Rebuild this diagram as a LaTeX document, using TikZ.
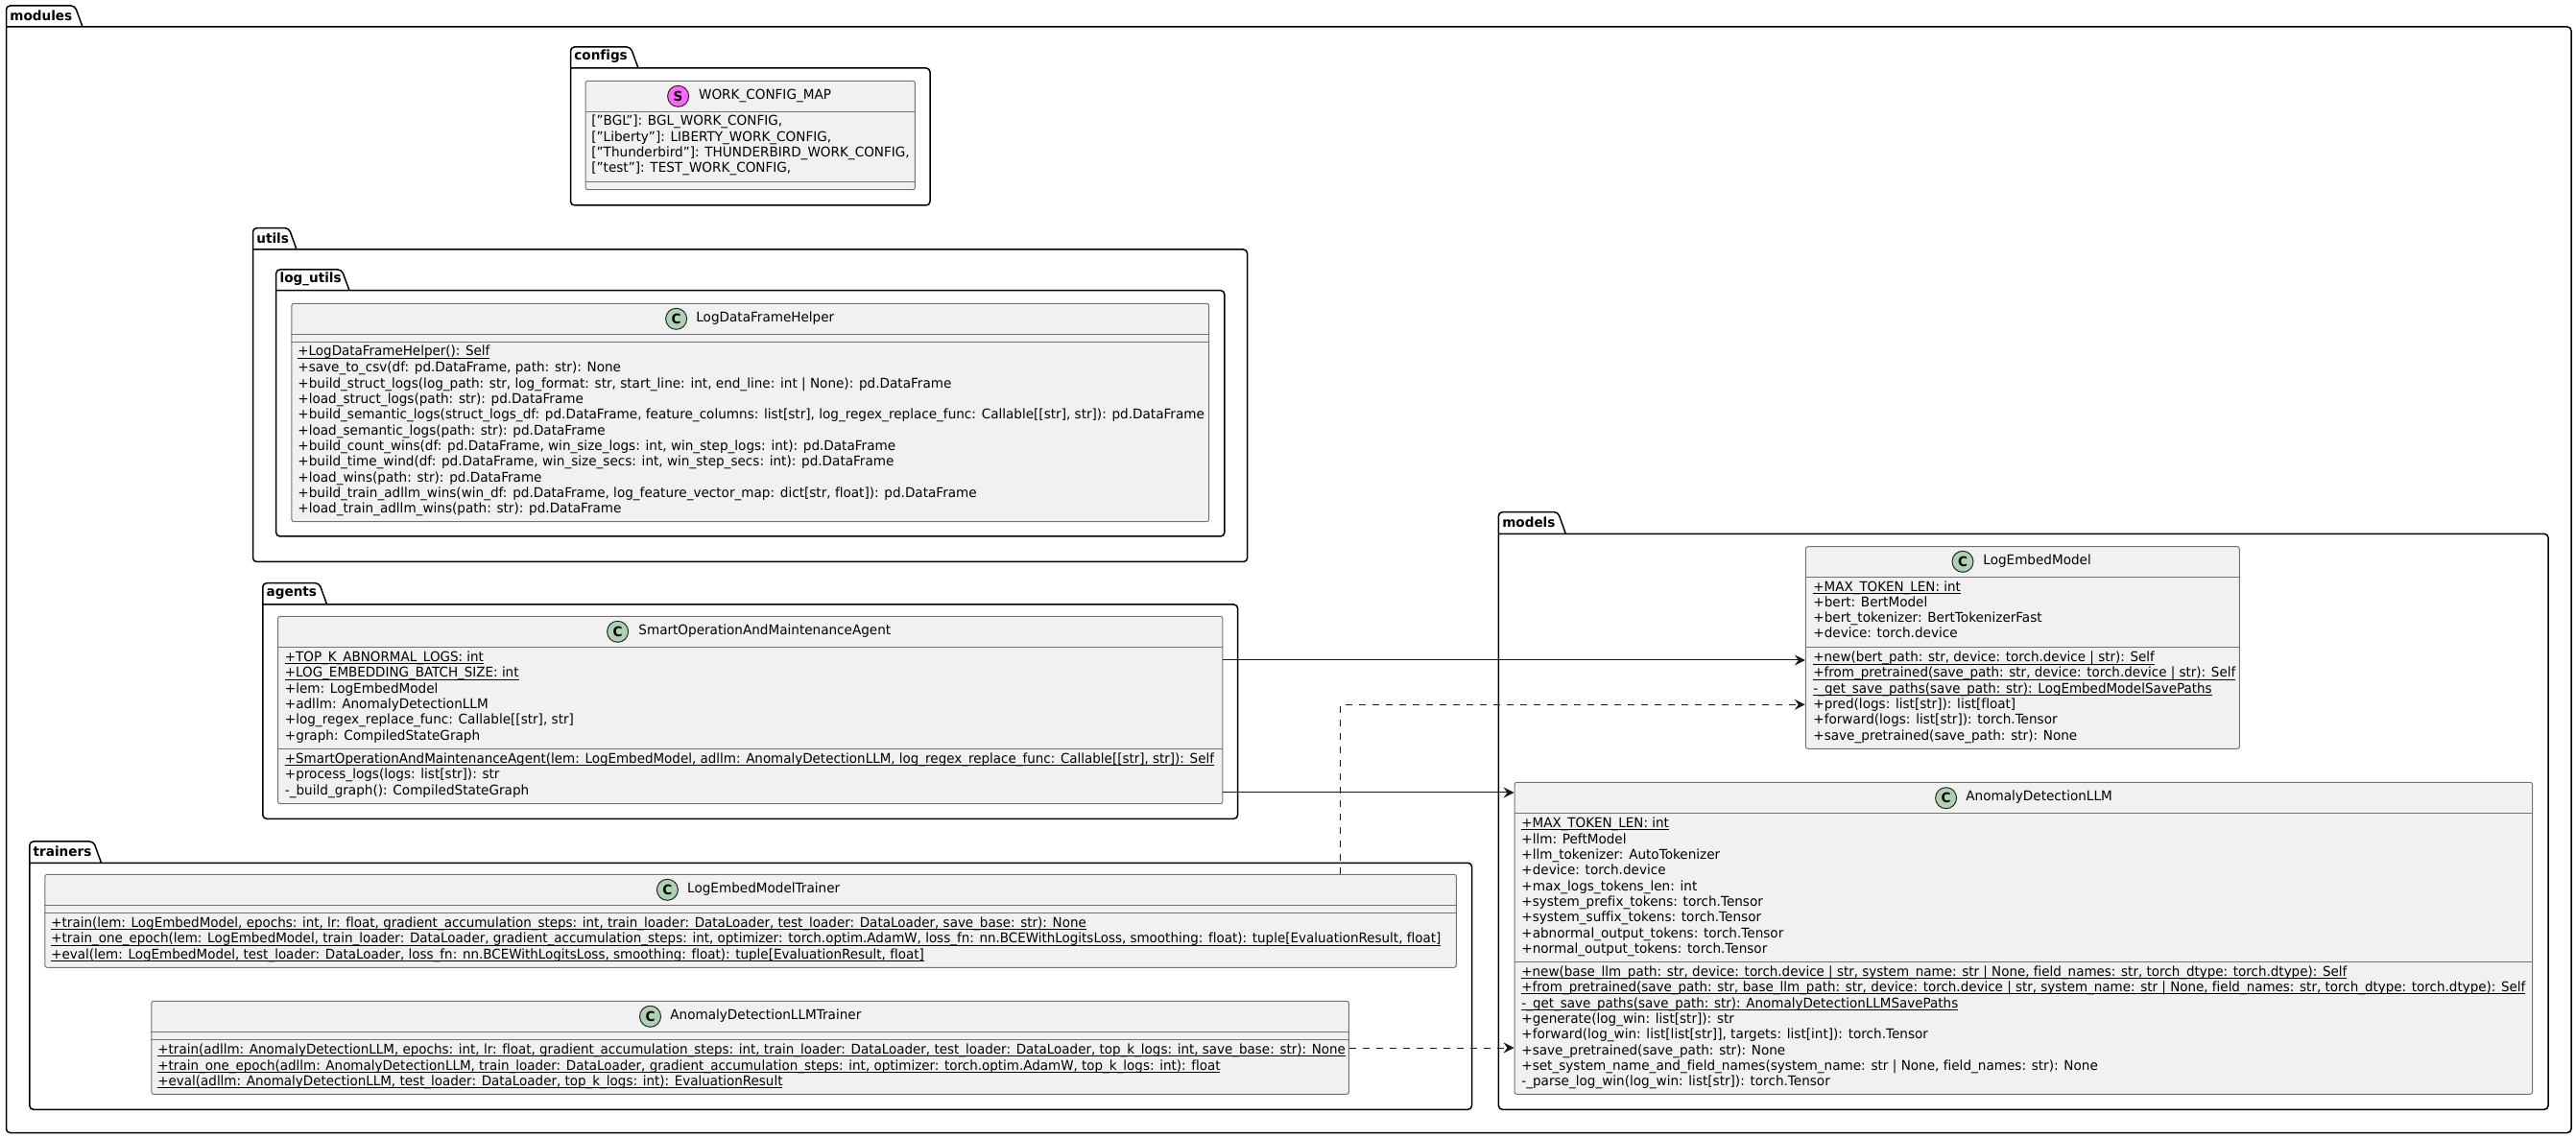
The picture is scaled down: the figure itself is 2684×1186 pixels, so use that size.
\documentclass[tikz,border=0pt]{standalone}
\usepackage{fontspec}
\setmainfont{DejaVu Sans}[Ligatures=NoCommon,FakeStretch=0.97]
\usepackage{xcolor}
\usetikzlibrary{arrows.meta,fit}
\definecolor{boxfill}{HTML}{F1F1F1}
\definecolor{classspot}{HTML}{ADD1B2}
\definecolor{mapspot}{HTML}{FF66FF}
\tikzset{
  line join=round,
  packageline/.style={line width=0.75pt, draw=black, rounded corners=2pt},
  packagelabel/.style={anchor=west, inner sep=0pt, font=\fontsize{7}{8}\selectfont\bfseries},
  classbox/.style={draw=black!55, fill=boxfill, line width=0.5pt, rounded corners=1.2pt, inner sep=0pt},
  divider/.style={draw=black!55, line width=0.5pt},
  member/.style={anchor=west, inner sep=0pt, text height=5pt, text depth=2pt, font=\fontsize{7}{8}\selectfont},
  spotc/.style={draw=black!85, fill=classspot, circle, line width=0.5pt, minimum size=11pt, inner sep=0pt, font=\fontsize{7}{8}\selectfont\bfseries},
  spots/.style={spotc, fill=mapspot},
  arrow/.style={-{Stealth[length=5.5pt,width=5.5pt,inset=2pt]}, line width=0.5pt, draw=black!90},
  dashedarrow/.style={arrow, dash pattern=on 3.5pt off 3.5pt}
}
\newcommand{\ulrow}[1]{\setbox0=\hbox{\addfontfeatures{FakeStretch=0.962}#1}\rlap{\vrule width\wd0 height -0.9pt depth 1.4pt}\box0}
% name, label, left, tab top, tab right, header, right, bottom
\newcommand{\packagebox}[8]{
  \draw[packageline] (#3,#6) -- (#3,#4) -- ({#5-8},#4) -- (#5,#6);
  \draw[packageline] (#3,#6) -- (#7,#6) -- (#7,#8) -- (#3,#8) -- (#3,#6);
  \node[packagelabel] (#1) at ({#3+3.5},{(#4+#6)/2-1}) {#2};
}
\begin{document}
\begin{tikzpicture}[x=0.5pt, y=-0.5pt]
  \useasboundingbox (0,0) rectangle (2684,1186);

  % packages
  \packagebox{modules}{modules}{6.5}{6}{86}{28}{2679}{1180.5}
  \packagebox{configs}{configs}{594.5}{49}{665}{71}{969}{214}
  \packagebox{utils}{utils}{263.5}{237.7}{309}{260}{1299.6}{585.5}
  \packagebox{logutils}{log\_utils}{287.7}{281}{364}{302.7}{1275.8}{559}
  \packagebox{agents}{agents}{273.8}{607.7}{340.6}{630}{1289.6}{853.3}
  \packagebox{trainers}{trainers}{30.8}{877}{105.5}{899.3}{1533.5}{1156.3}
  \packagebox{models}{models}{1561.4}{533.7}{1631.3}{556.3}{2655}{1156.3}

  % WORK_CONFIG_MAP
  \node[classbox, fit={(610,84.3) (953.4,197.7)}] (workmap) {};
  \draw[divider] (workmap.west |- 0,116.3) -- (workmap.east |- 0,116.3);
  \draw[divider] (workmap.west |- 0,189.3) -- (workmap.east |- 0,189.3);
  \node[spots] (workmapspot) at (706.6,100.3) {S};
  \node[member] (workmapname) at (727.7,100.3) {WORK\_CONFIG\_MAP};
  \node[member] (workmap1) at (616,128) {["BGL"]: BGL\_WORK\_CONFIG,};
  \node[member] (workmap2) at (616,145) {["Liberty"]: LIBERTY\_WORK\_CONFIG,};
  \node[member] (workmap3) at (616,161) {["Thunderbird"]: THUNDERBIRD\_WORK\_CONFIG,};
  \node[member] (workmap4) at (616,177) {["test"]: TEST\_WORK\_CONFIG,};

  % LogDataFrameHelper
  \node[classbox, fit={(303.9,316.3) (1259.6,543.7)}] (helper) {};
  \draw[divider] (helper.west |- 0,348.3) -- (helper.east |- 0,348.3);
  \draw[divider] (helper.west |- 0,356.3) -- (helper.east |- 0,356.3);
  \node[spotc] (helperspot) at (704.6,332.3) {C};
  \node[member] (helpername) at (725,332.3) {LogDataFrameHelper};
  \node[member] (helper1) at (310,368) {\ulrow{+LogDataFrameHelper(): Self}};
  \node[member] (helper2) at (310,385) {+save\_to\_csv(df: pd.DataFrame, path: str): None};
  \node[member] (helper3) at (310,401.3) {+build\_struct\_logs(log\_path: str, log\_format: str, start\_line: int, end\_line: int | None): pd.DataFrame};
  \node[member] (helper4) at (310,417.6) {+load\_struct\_logs(path: str): pd.DataFrame};
  \node[member] (helper5) at (310,434) {+build\_semantic\_logs(struct\_logs\_df: pd.DataFrame, feature\_columns: list[str], log\_regex\_replace\_func: Callable[[str], str]): pd.DataFrame};
  \node[member] (helper6) at (310,450.3) {+load\_semantic\_logs(path: str): pd.DataFrame};
  \node[member] (helper7) at (310,466.6) {+build\_count\_wins(df: pd.DataFrame, win\_size\_logs: int, win\_step\_logs: int): pd.DataFrame};
  \node[member] (helper8) at (310,483) {+build\_time\_wind(df: pd.DataFrame, win\_size\_secs: int, win\_step\_secs: int): pd.DataFrame};
  \node[member] (helper9) at (310,499.3) {+load\_wins(path: str): pd.DataFrame};
  \node[member] (helper10) at (310,515.6) {+build\_train\_adllm\_wins(win\_df: pd.DataFrame, log\_feature\_vector\_map: dict[str, float]): pd.DataFrame};
  \node[member] (helper11) at (310,532) {+load\_train\_adllm\_wins(path: str): pd.DataFrame};

  % SmartOperationAndMaintenanceAgent
  \node[classbox, fit={(289.6,642.3) (1273.8,837.7)}] (agent) {};
  \draw[divider] (agent.west |- 0,674.7) -- (agent.east |- 0,674.7);
  \draw[divider] (agent.west |- 0,780.3) -- (agent.east |- 0,780.3);
  \node[spotc] (agentspot) at (643.6,658.3) {C};
  \node[member] (agentname) at (665,658.3) {SmartOperationAndMaintenanceAgent};
  \node[member] (agent1) at (296.5,686.7) {\ulrow{+TOP\_K\_ABNORMAL\_LOGS: int}};
  \node[member] (agent2) at (296.5,703) {\ulrow{+LOG\_EMBEDDING\_BATCH\_SIZE: int}};
  \node[member] (agent3) at (296.5,719.3) {+lem: LogEmbedModel};
  \node[member] (agent4) at (296.5,735.7) {+adllm: AnomalyDetectionLLM};
  \node[member] (agent5) at (296.5,752) {+log\_regex\_replace\_func: Callable[[str], str]};
  \node[member] (agent6) at (296.5,768.3) {+graph: CompiledStateGraph};
  \node[member] (agent7) at (296.5,792.7) {\ulrow{+SmartOperationAndMaintenanceAgent(lem: LogEmbedModel, adllm: AnomalyDetectionLLM, log\_regex\_replace\_func: Callable[[str], str]): Self}};
  \node[member] (agent8) at (296.5,809) {+process\_logs(logs: list[str]): str};
  \node[member] (agent9) at (296.5,825.4) {-\_build\_graph(): CompiledStateGraph};

  % LogEmbedModelTrainer
  \node[classbox, fit={(46.8,911.3) (1517.4,1008.3)}] (lemtrainer) {};
  \draw[divider] (lemtrainer.west |- 0,943.3) -- (lemtrainer.east |- 0,943.3);
  \draw[divider] (lemtrainer.west |- 0,951.3) -- (lemtrainer.east |- 0,951.3);
  \node[spotc] (lemtrainerspot) at (695.4,927.3) {C};
  \node[member] (lemtrainername) at (715.8,927.3) {LogEmbedModelTrainer};
  \node[member] (lemtrainer1) at (53,963.3) {\ulrow{+train(lem: LogEmbedModel, epochs: int, lr: float, gradient\_accumulation\_steps: int, train\_loader: DataLoader, test\_loader: DataLoader, save\_base: str): None}};
  \node[member] (lemtrainer2) at (53,980) {\ulrow{+train\_one\_epoch(lem: LogEmbedModel, train\_loader: DataLoader, gradient\_accumulation\_steps: int, optimizer: torch.optim.AdamW, loss\_fn: nn.BCEWithLogitsLoss, smoothing: float): tuple[EvaluationResult, float]}};
  \node[member] (lemtrainer3) at (53,996.3) {\ulrow{+eval(lem: LogEmbedModel, test\_loader: DataLoader, loss\_fn: nn.BCEWithLogitsLoss, smoothing: float): tuple[EvaluationResult, float]}};

  % AnomalyDetectionLLMTrainer
  \node[classbox, fit={(157.8,1043.3) (1405.4,1140.3)}] (adtrainer) {};
  \draw[divider] (adtrainer.west |- 0,1075.3) -- (adtrainer.east |- 0,1075.3);
  \draw[divider] (adtrainer.west |- 0,1083.3) -- (adtrainer.east |- 0,1083.3);
  \node[spotc] (adtrainerspot) at (677.5,1059.3) {C};
  \node[member] (adtrainername) at (698,1059.3) {AnomalyDetectionLLMTrainer};
  \node[member] (adtrainer1) at (164,1095.3) {\ulrow{+train(adllm: AnomalyDetectionLLM, epochs: int, lr: float, gradient\_accumulation\_steps: int, train\_loader: DataLoader, test\_loader: DataLoader, top\_k\_logs: int, save\_base: str): None}};
  \node[member] (adtrainer2) at (164,1112) {\ulrow{+train\_one\_epoch(adllm: AnomalyDetectionLLM, train\_loader: DataLoader, gradient\_accumulation\_steps: int, optimizer: torch.optim.AdamW, top\_k\_logs: int): float}};
  \node[member] (adtrainer3) at (164,1128.3) {\ulrow{+eval(adllm: AnomalyDetectionLLM, test\_loader: DataLoader, top\_k\_logs: int): EvaluationResult}};

  % LogEmbedModel
  \node[classbox, fit={(1881.3,569.7) (2333.4,780.3)}] (lem) {};
  \draw[divider] (lem.west |- 0,601.3) -- (lem.east |- 0,601.3);
  \draw[divider] (lem.west |- 0,674.3) -- (lem.east |- 0,674.3);
  \node[spotc] (lemspot) at (2045,585.3) {C};
  \node[member] (lemname) at (2066,585.3) {LogEmbedModel};
  \node[member] (lem1) at (1889,613.3) {\ulrow{+MAX\_TOKEN\_LEN: int}};
  \node[member] (lem2) at (1889,630) {+bert: BertModel};
  \node[member] (lem3) at (1889,646) {+bert\_tokenizer: BertTokenizerFast};
  \node[member] (lem4) at (1889,662) {+device: torch.device};
  \node[member] (lem5) at (1889,687) {\ulrow{+new(bert\_path: str, device: torch.device | str): Self}};
  \node[member] (lem6) at (1889,703) {\ulrow{+from\_pretrained(save\_path: str, device: torch.device | str): Self}};
  \node[member] (lem7) at (1889,719.3) {\ulrow{-\_get\_save\_paths(save\_path: str): LogEmbedModelSavePaths}};
  \node[member] (lem8) at (1889,736) {+pred(logs: list[str]): list[float]};
  \node[member] (lem9) at (1889,752) {+forward(logs: list[str]): torch.Tensor};
  \node[member] (lem10) at (1889,768.3) {+save\_pretrained(save\_path: str): None};

  % AnomalyDetectionLLM
  \node[classbox, fit={(1578,815.3) (2638.5,1140.3)}] (adllm) {};
  \draw[divider] (adllm.west |- 0,847.3) -- (adllm.east |- 0,847.3);
  \draw[divider] (adllm.west |- 0,1002.3) -- (adllm.east |- 0,1002.3);
  \node[spotc] (adllmspot) at (2027.6,831.7) {C};
  \node[member] (adllmname) at (2048,831.7) {AnomalyDetectionLLM};
  \node[member] (adllm1) at (1585,859.3) {\ulrow{+MAX\_TOKEN\_LEN: int}};
  \node[member] (adllm2) at (1585,876.3) {+llm: PeftModel};
  \node[member] (adllm3) at (1585,892.3) {+llm\_tokenizer: AutoTokenizer};
  \node[member] (adllm4) at (1585,908.3) {+device: torch.device};
  \node[member] (adllm5) at (1585,925.3) {+max\_logs\_tokens\_len: int};
  \node[member] (adllm6) at (1585,941.3) {+system\_prefix\_tokens: torch.Tensor};
  \node[member] (adllm7) at (1585,957.3) {+system\_suffix\_tokens: torch.Tensor};
  \node[member] (adllm8) at (1585,974.3) {+abnormal\_output\_tokens: torch.Tensor};
  \node[member] (adllm9) at (1585,990.3) {+normal\_output\_tokens: torch.Tensor};
  \node[member] (adllm10) at (1585,1014.3) {\ulrow{+new(base\_llm\_path: str, device: torch.device | str, system\_name: str | None, field\_names: str, torch\_dtype: torch.dtype): Self}};
  \node[member] (adllm11) at (1585,1030.3) {\ulrow{+from\_pretrained(save\_path: str, base\_llm\_path: str, device: torch.device | str, system\_name: str | None, field\_names: str, torch\_dtype: torch.dtype): Self}};
  \node[member] (adllm12) at (1585,1047.3) {\ulrow{-\_get\_save\_paths(save\_path: str): AnomalyDetectionLLMSavePaths}};
  \node[member] (adllm13) at (1585,1063.3) {+generate(log\_win: list[str]): str};
  \node[member] (adllm14) at (1585,1079.3) {+forward(log\_win: list[list[str]], targets: list[int]): torch.Tensor};
  \node[member] (adllm15) at (1585,1096.3) {+save\_pretrained(save\_path: str): None};
  \node[member] (adllm16) at (1585,1112.3) {+set\_system\_name\_and\_field\_names(system\_name: str | None, field\_names: str): None};
  \node[member] (adllm17) at (1585,1128.3) {-\_parse\_log\_win(log\_win: list[str]): torch.Tensor};

  % connectors
  \coordinate (agentlem) at (lem.west |- 0,688);
  \coordinate (agentadllm) at (adllm.west |- 0,826);
  \coordinate (lemdash) at (lem.west |- 0,734.3);
  \coordinate (lemcorner) at (1396.4,734.3);
  \coordinate (addash) at (adllm.west |- 0,1092);
  \draw[arrow] (agent.east |- agentlem) -- (agentlem);
  \draw[arrow] (agent.east |- agentadllm) -- (agentadllm);
  \draw[dashedarrow] (lemtrainer.north -| lemcorner) -- (lemcorner) -- (lemdash);
  \draw[dashedarrow] (adtrainer.east |- addash) -- (addash);
\end{tikzpicture}
\end{document}
